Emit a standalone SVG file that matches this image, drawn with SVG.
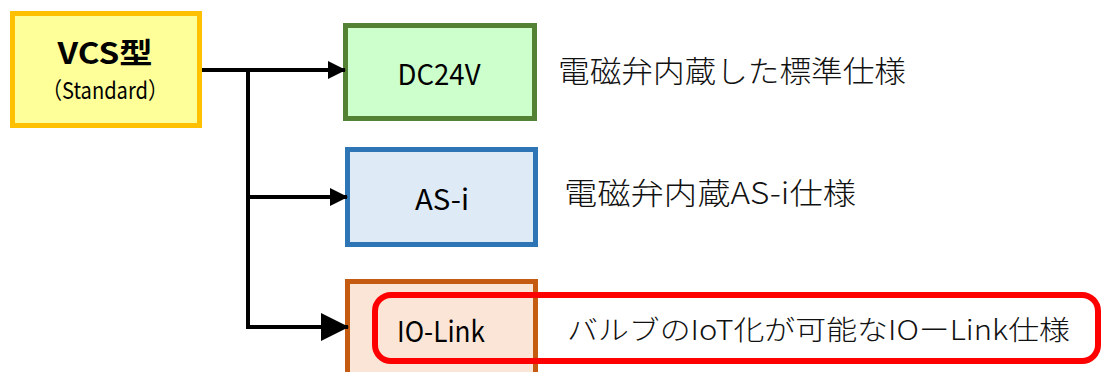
<svg xmlns="http://www.w3.org/2000/svg" width="1102" height="372" viewBox="0 0 1102 372">
<style>
.lbl{font-family:"Noto Sans CJK JP","DejaVu Sans",sans-serif;fill:#000;text-anchor:middle}
.desc{font-family:"Noto Sans CJK JP","DejaVu Sans",sans-serif;fill:#111;font-weight:300}
.conn{fill:none;stroke:#000;stroke-width:4}
</style>
<defs>
<marker id="arS" markerUnits="userSpaceOnUse" markerWidth="18" markerHeight="18" viewBox="0 0 18 18" refX="17" refY="9" orient="auto"><path d="M0,0 L18,9 L0,18 Z" fill="#000"/></marker>
<marker id="arL" markerUnits="userSpaceOnUse" markerWidth="28" markerHeight="28" viewBox="0 0 28 28" refX="27" refY="14" orient="auto"><path d="M0,0 L28,14 L0,28 Z" fill="#000"/></marker>
</defs>
<rect width="1102" height="372" fill="#fff"/>
<g id="vcs">
<rect x="12.5" y="13.5" width="187" height="112" fill="#FFFF99" stroke="#FFC000" stroke-width="5"/>
<text class="lbl" x="105" y="64" font-size="29" font-weight="700" textLength="95" lengthAdjust="spacingAndGlyphs">VCS型</text>
<text class="lbl" x="105" y="99" font-size="23" textLength="126" lengthAdjust="spacingAndGlyphs">（Standard）</text>
</g>
<g id="dc24v">
<rect x="345.5" y="25.5" width="189" height="93" fill="#CCFFCC" stroke="#548235" stroke-width="5"/>
<text class="lbl" x="439" y="85" font-size="29" textLength="83" lengthAdjust="spacingAndGlyphs">DC24V</text>
<text class="desc" x="558" y="82" font-size="30" textLength="348" lengthAdjust="spacingAndGlyphs">電磁弁内蔵した標準仕様</text>
</g>
<g id="asi">
<rect x="347.5" y="149.5" width="188" height="95" fill="#DEEBF7" stroke="#2E75B6" stroke-width="5"/>
<text class="lbl" x="442" y="210" font-size="29" textLength="54" lengthAdjust="spacingAndGlyphs">AS-i</text>
<text class="desc" x="564" y="204" font-size="30" textLength="292" lengthAdjust="spacingAndGlyphs">電磁弁内蔵AS-i仕様</text>
</g>
<g id="iolink">
<rect x="347.5" y="281.5" width="188" height="100" fill="#FBE5D6" stroke="#C55A11" stroke-width="5"/>
<rect x="375" y="295" width="723" height="66" rx="16" fill="none" stroke="#FF0000" stroke-width="6"/>
<text class="lbl" x="441" y="342" font-size="29" textLength="88" lengthAdjust="spacingAndGlyphs">IO-Link</text>
<text class="desc" x="567" y="340" font-size="27" textLength="503" lengthAdjust="spacingAndGlyphs">バルブのIoT化が可能なIOーLink仕様</text>
</g>
<g id="connectors">
<path class="conn" d="M202,70 H345" marker-end="url(#arS)"/>
<path class="conn" d="M248,70 V327 H348" marker-end="url(#arL)"/>
<path class="conn" d="M248,197 H347" marker-end="url(#arS)"/>
</g>
</svg>
